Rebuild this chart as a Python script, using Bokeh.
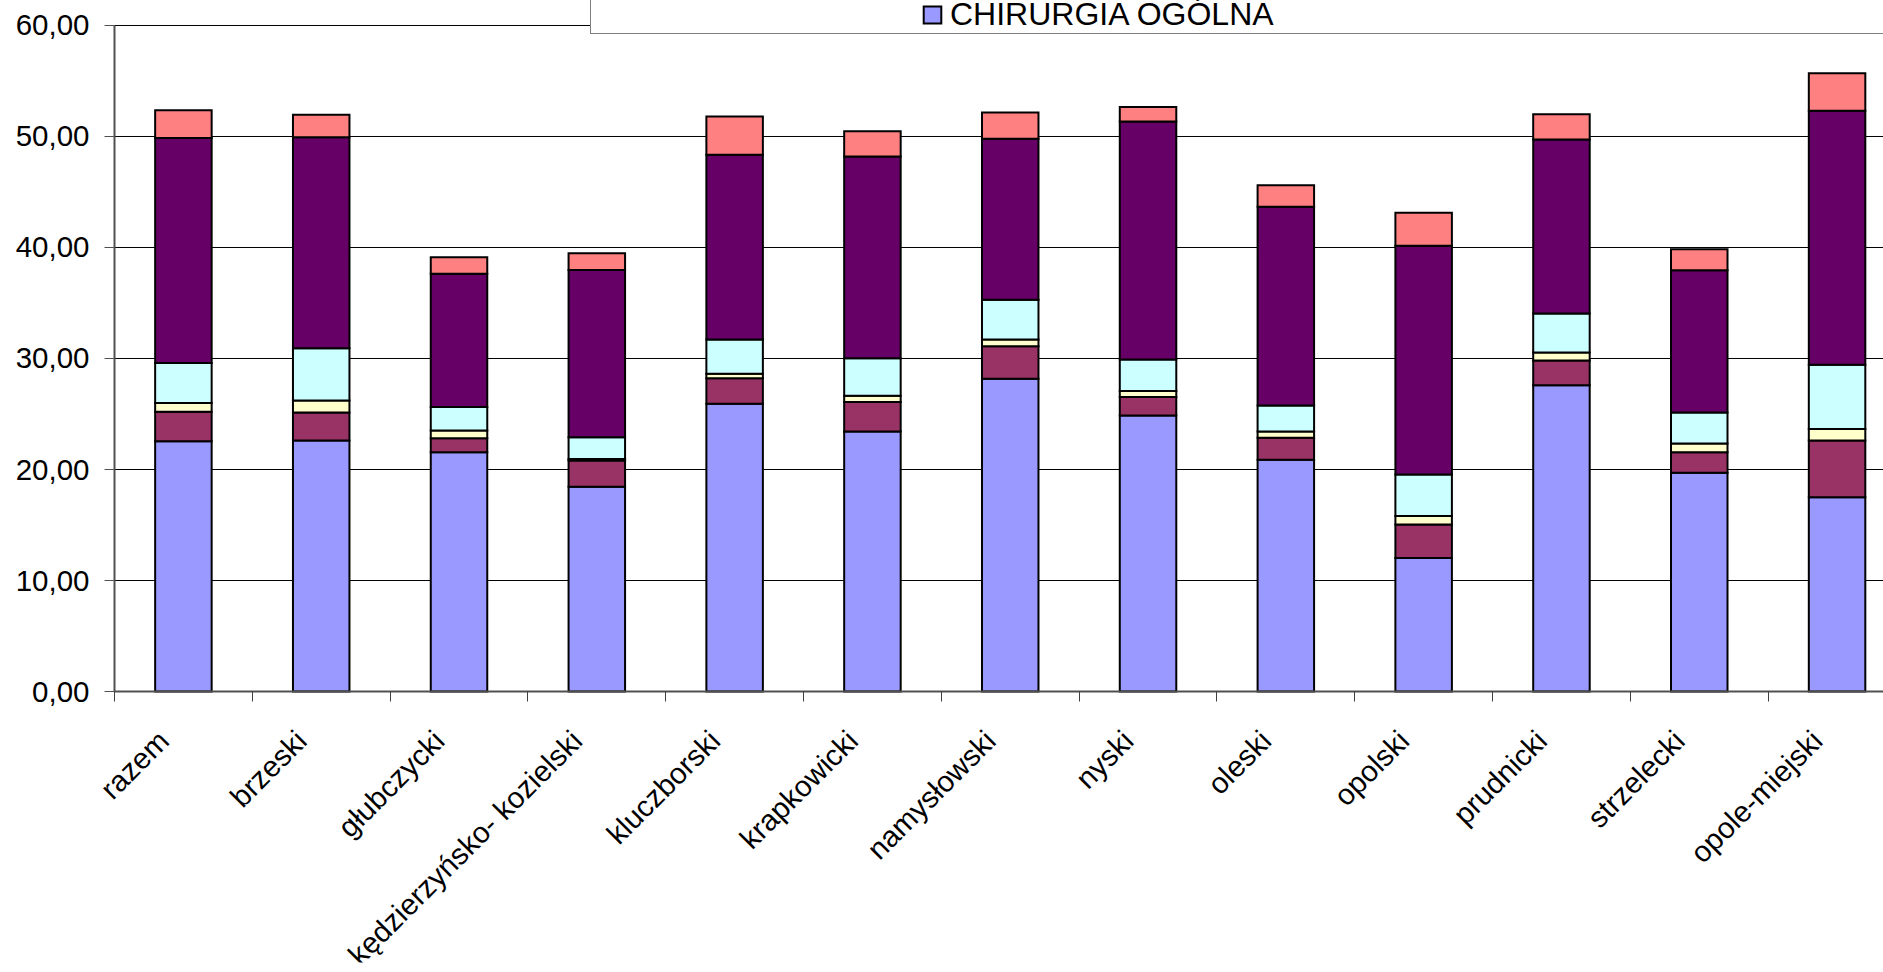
from math import pi
from bokeh.plotting import figure
from bokeh.models import ColumnDataSource, FixedTicker, Legend, LegendItem, Range1d, LabelSet
from bokeh.core.properties import value
from bokeh.embed import file_html
from bokeh.resources import INLINE

categories = ["razem", "brzeski", "głubczycki", "kędzierzyńsko- kozielski", "kluczborski",
              "krapkowicki", "namysłowski", "nyski", "oleski", "opolski", "prudnicki",
              "strzelecki", "opole-miejski"]

legend_label = "CHIRURGIA OGÓLNA"

# stacked segments, bottom to top
chirurgia_ogolna = [22.55, 22.62, 21.56, 18.45, 25.92, 23.42, 28.17, 24.87, 20.87, 12.03, 27.58, 19.70, 17.50]
seria_2 = [2.65, 2.52, 1.26, 2.35, 2.31, 2.65, 2.94, 1.66, 1.99, 3.01, 2.25, 1.86, 5.12]
seria_3 = [0.80, 1.08, 0.69, 0.15, 0.39, 0.57, 0.60, 0.54, 0.57, 0.78, 0.70, 0.79, 1.02]
seria_4 = [3.60, 4.71, 2.11, 1.95, 3.09, 3.39, 3.58, 2.83, 2.34, 3.73, 3.52, 2.79, 5.80]
seria_5 = [20.27, 19.01, 12.01, 15.08, 16.64, 18.17, 14.50, 21.45, 17.89, 20.60, 15.68, 12.81, 22.89]
seria_6 = [2.50, 2.01, 1.50, 1.50, 3.45, 2.28, 2.37, 1.30, 1.94, 2.98, 2.27, 1.90, 3.37]

y_tick_values = [0, 10, 20, 30, 40, 50, 60]
y_tick_labels = ["0,00", "10,00", "20,00", "30,00", "40,00", "50,00", "60,00"]

colors = ["#9999FF", "#993366", "#FFFFCC", "#CCFFFF", "#660066", "#FF8080"]
stack_keys = ["s1", "s2", "s3", "s4", "s5", "s6"]

x_pos = list(range(len(categories)))
src = ColumnDataSource(dict(x=x_pos, name=categories, s1=chirurgia_ogolna, s2=seria_2,
                            s3=seria_3, s4=seria_4, s5=seria_5, s6=seria_6))
ysrc = ColumnDataSource(dict(y=y_tick_values, label=y_tick_labels))

FONT = "Liberation Sans"

# The frame covers (almost) the whole figure so that the legend (top), the rotated
# category names (bottom) and the value labels (left) are not clipped;
# the axes sit at fixed locations (x = -0.5, y = 0).
p = figure(width=1883, height=972, output_backend="svg", toolbar_location=None,
           x_range=Range1d(-1.2547, 12.337), y_range=Range1d(-24.414, 62.252),
           min_border_left=10, min_border_right=0, min_border_top=0, min_border_bottom=10)
p.outline_line_color = None
p.background_fill_color = "white"
p.border_fill_color = "white"
p.xgrid.visible = False
p.ygrid.visible = False

# horizontal gridlines from the category area's left edge
p.segment(x0=-0.5, x1=len(categories) + 0.5, y0="y", y1="y", source=ysrc,
          line_color="black", line_width=1, level="underlay")

renderers = p.vbar_stack(stack_keys, x="x", width=0.41, source=src,
                         fill_color=colors, line_color="black", line_width=2,
                         line_join="miter")

# y axis: line and ticks only; value labels via LabelSet
p.yaxis.ticker = FixedTicker(ticks=[], minor_ticks=y_tick_values)
p.yaxis.fixed_location = -0.5
p.yaxis.bounds = (0, 60)
p.yaxis.major_tick_out = 10
p.yaxis.major_tick_in = 0
p.yaxis.major_label_standoff = 0
p.yaxis.axis_label_standoff = 0
p.yaxis.minor_tick_out = 10
p.yaxis.minor_tick_in = 0
p.yaxis.minor_tick_line_color = "#505050"
p.yaxis.axis_line_color = "#505050"
p.yaxis.axis_line_width = 2

ylabels = LabelSet(x=-0.5, y="y", text="label", source=ysrc, x_offset=-25,
                   text_align="right", text_baseline="middle",
                   text_font=value(FONT), text_font_size=value("29.5px"), text_color="black")
p.add_layout(ylabels)

# x axis at value 0: only the separator ticks between categories
p.xaxis.ticker = FixedTicker(ticks=[], minor_ticks=[i - 0.5 for i in range(len(categories) + 1)])
p.xaxis.fixed_location = 0
p.xaxis.bounds = (-0.5, 13)
p.xaxis.major_tick_out = 10
p.xaxis.major_tick_in = 0
p.xaxis.major_label_standoff = 0
p.xaxis.axis_label_standoff = 0
p.xaxis.minor_tick_out = 10
p.xaxis.minor_tick_in = 0
p.xaxis.minor_tick_line_color = "#404040"
p.xaxis.axis_line_color = "#505050"
p.xaxis.axis_line_width = 2

cat_labels = LabelSet(x="x", y=0, text="name", source=src, angle=pi / 4,
                      x_offset=-20, y_offset=-44, text_align="right", text_baseline="middle",
                      text_font=value(FONT), text_font_size=value("29.5px"), text_color="black")
p.add_layout(cat_labels)

legend = Legend(items=[LegendItem(label=legend_label, renderers=[renderers[0]])],
                location=(580, 928), orientation="vertical",
                title=" ", title_location="left", title_standoff=329,
                title_text_font_size="1px",
                padding=0, margin=0, spacing=0,
                label_width=1400, glyph_width=22, glyph_height=21, label_standoff=7,
                label_text_font=FONT, label_text_font_size="32px", label_text_color="black",
                border_line_color="black", border_line_width=1,
                background_fill_color="white", background_fill_alpha=1.0)
p.add_layout(legend, "center")

open("out.html", "w").write(file_html(p, INLINE))
